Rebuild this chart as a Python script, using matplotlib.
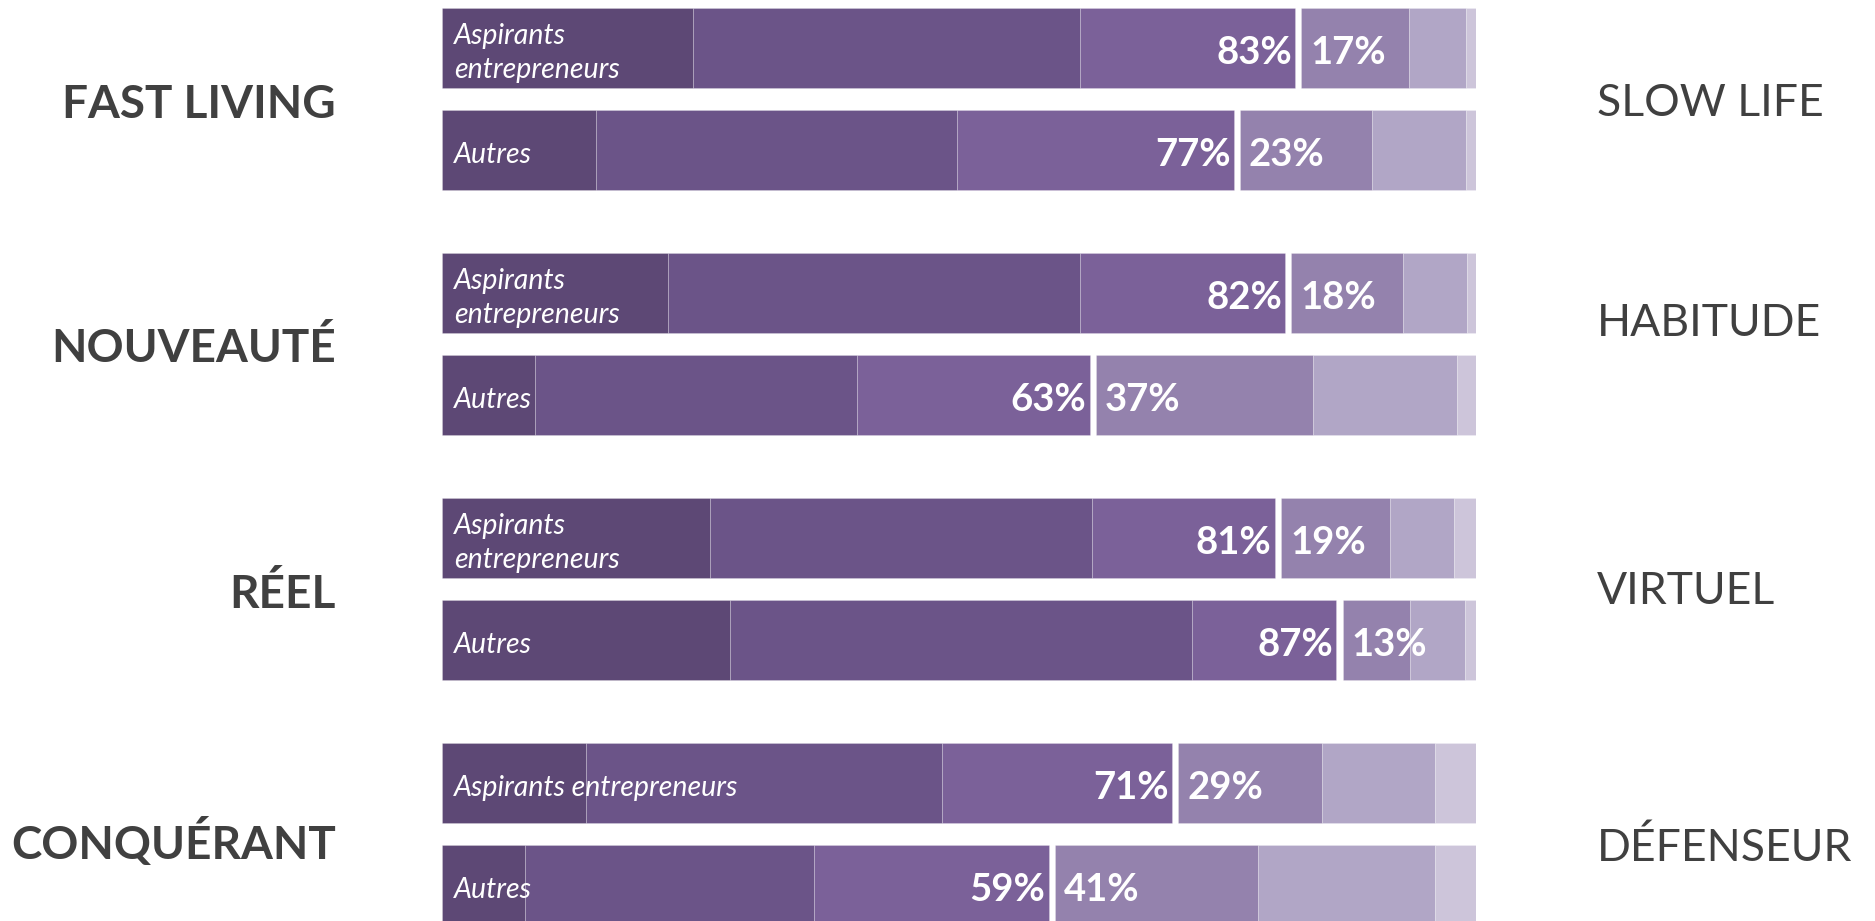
import matplotlib.pyplot as plt
import numpy as np

# diverging 6-point scale, 3 segments each side (values in %)
themes_left = ["FAST LIVING", "NOUVEAUTÉ", "RÉEL", "CONQUÉRANT"]
themes_right = ["SLOW LIFE", "HABITUDE", "VIRTUEL", "DÉFENSEUR"]
groups = ["Aspirants\nentrepreneurs", "Autres"]
groups_last = ["Aspirants entrepreneurs", "Autres"]

seg1 = [24.4, 15.0, 22.0, 9.0, 26.1, 28.0, 14.0, 8.1]
seg2 = [37.7, 35.1, 40.1, 31.4, 37.1, 45.0, 34.6, 28.1]
seg3 = [20.9, 26.9, 19.9, 22.6, 17.8, 14.0, 22.4, 22.8]
seg4 = [10.5, 12.9, 10.9, 21.1, 10.6, 6.6, 14.0, 19.8]
seg5 = [5.5, 9.1, 6.2, 14.0, 6.2, 5.3, 11.0, 17.2]
seg6 = [1.0, 1.0, 0.9, 1.9, 2.2, 1.1, 4.0, 4.0]
left_pct = [83, 77, 82, 63, 81, 87, 71, 59]
right_pct = [17, 23, 18, 37, 19, 13, 29, 41]

colors = ["#5d4875", "#6b5488", "#7b6199", "#9482ad", "#b1a6c6", "#cdc5da"]
dark = "#404040"

W, H = 1875, 921
fig = plt.figure(figsize=(W / 100, H / 100), dpi=100)
gap = 0.6
x0 = 442
x1 = x0 + (100 + gap) * 10.28
ax = fig.add_axes([x0 / W, 0, (x1 - x0) / W, 1])
ax.set_xlim(0, 100 + gap)
ax.set_ylim(H, 0)
ax.axis("off")

bar_h = 80
group_step = 245
row_step = 102

for i in range(8):
    g, r = divmod(i, 2)
    top = 8 + g * group_step + r * row_step
    yc = top + bar_h / 2
    segs = [seg1[i], seg2[i], seg3[i]]
    k = left_pct[i] / sum(segs)
    segs = [s * k for s in segs]
    lefts = np.concatenate([[0], np.cumsum(segs)[:-1]])
    for s, l, c in zip(segs, lefts, colors[:3]):
        ax.barh(yc, s, left=l, height=bar_h, color=c,
                edgecolor=(1, 1, 1, 0.25), linewidth=0.6)
    rsegs = [seg4[i], seg5[i], seg6[i]]
    kr = right_pct[i] / sum(rsegs)
    rsegs = [s * kr for s in rsegs]
    start = left_pct[i] + gap
    rlefts = start + np.concatenate([[0], np.cumsum(rsegs)[:-1]])
    for s, l, c in zip(rsegs, rlefts, colors[3:]):
        ax.barh(yc, s, left=l, height=bar_h, color=c,
                edgecolor=(1, 1, 1, 0.25), linewidth=0.6)

    ax.text(left_pct[i] - 0.3, yc + 5, f"{left_pct[i]}%", ha="right",
            va="center", color="white", fontsize=27.5, fontweight="bold",
            family="Lato")
    ax.text(start + 0.9, yc + 5, f"{right_pct[i]}%", ha="left",
            va="center", color="white", fontsize=27.5, fontweight="bold",
            family="Lato")
    lab = groups_last[r] if g == 3 else groups[r]
    ax.text(1.2, yc + 5, lab, ha="left", va="center", color="white",
            fontsize=20.5, fontstyle="italic", family="Lato", linespacing=1.35)

left_y = [105, 348, 594, 842]
right_y = [103, 324, 591, 848]
for t, y in zip(themes_left, left_y):
    fig.text(336 / W, 1 - y / H, t, ha="right", va="center", color=dark,
             fontsize=33, fontweight="bold", family="Lato")
for t, y in zip(themes_right, right_y):
    fig.text(1597 / W, 1 - y / H, t, ha="left", va="center", color=dark,
             fontsize=32, family="Lato")

fig.savefig("out.png", dpi=100)
